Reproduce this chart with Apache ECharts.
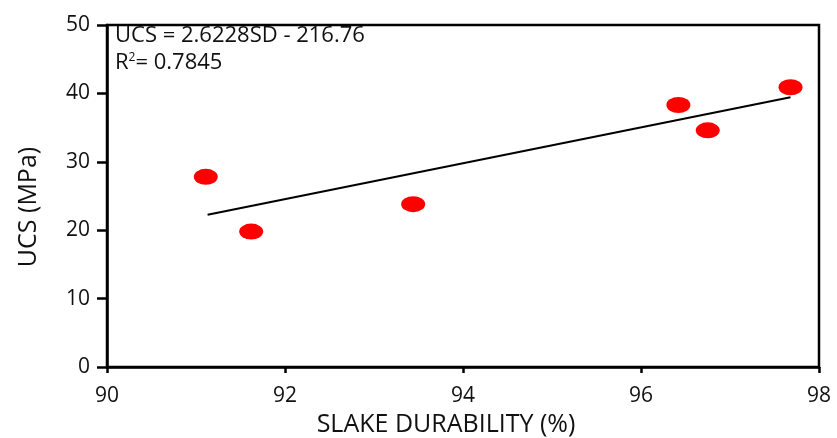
<!DOCTYPE html>
<html>
<head>
<meta charset="utf-8">
<script src="https://cdn.jsdelivr.net/npm/echarts@6/dist/echarts.min.js"></script>
<style>
  html, body { margin: 0; padding: 0; background: #fff; }
  #chart { width: 837px; height: 438px; }
</style>
</head>
<body>
<div id="chart"></div>
<script>
// Slake durability (%) vs uniaxial compressive strength (MPa)
const slakeDurability = [91.11, 91.62, 93.44, 96.42, 96.75, 97.68];
const ucsValues = [27.8, 19.8, 23.8, 38.3, 34.6, 40.9];

// Linear fit: UCS = slope * SD + intercept
const fitSlope = 2.6228;
const fitIntercept = -216.76;
const fitR2 = 0.7845;
const fitRange = [91.13, 97.68];

const xTicks = [90, 92, 94, 96, 98];
const yTicks = [0, 10, 20, 30, 40, 50];

const points = slakeDurability.map((x, i) => [x, ucsValues[i]]);
const fitLine = fitRange.map(x => [x, fitSlope * x + fitIntercept]);

const FONT = '"Open Sans", "Liberation Sans", sans-serif';

const chart = echarts.init(document.getElementById('chart'), null, { renderer: 'canvas' });
chart.setOption({
  animation: false,
  backgroundColor: '#ffffff',
  textStyle: { fontFamily: FONT },
  grid: {
    left: 107, right: 18, top: 25, bottom: 71,
    outerBoundsMode: 'none',
    containLabel: false,
    show: true, borderColor: '#000', borderWidth: 2.5, backgroundColor: 'transparent'
  },
  xAxis: {
    type: 'value',
    min: xTicks[0], max: xTicks[xTicks.length - 1], interval: 2,
    name: 'SLAKE DURABILITY (%)',
    nameLocation: 'middle',
    nameGap: 44,
    nameTextStyle: { fontSize: 25, color: '#111', fontFamily: FONT, padding: [0, 34, 0, 0] },
    axisLine: { show: true, lineStyle: { color: '#000', width: 2.5 } },
    axisTick: { show: true, inside: false, length: 6, lineStyle: { color: '#000', width: 2.5 } },
    axisLabel: { fontSize: 21, color: '#111', margin: 19, fontFamily: FONT },
    splitLine: { show: false }
  },
  yAxis: {
    type: 'value',
    min: yTicks[0], max: yTicks[yTicks.length - 1], interval: 10,
    name: 'UCS (MPa)',
    nameLocation: 'middle',
    nameGap: 66,
    nameTextStyle: { fontSize: 25, color: '#111', fontFamily: FONT, padding: [0, 22, 0, 0] },
    axisLine: { show: true, lineStyle: { color: '#000', width: 2.5 } },
    axisTick: { show: true, inside: false, length: 10, lineStyle: { color: '#000', width: 2.5 } },
    axisLabel: { fontSize: 21, color: '#111', margin: 17, fontFamily: FONT },
    splitLine: { show: false }
  },
  series: [
    {
      type: 'line',
      data: fitLine,
      symbol: 'none',
      lineStyle: { color: '#000', width: 2 },
      z: 2
    },
    {
      type: 'scatter',
      data: points,
      symbol: 'circle',
      symbolSize: [24, 16],
      itemStyle: { color: '#ff0000', opacity: 1 },
      z: 3
    }
  ],
  graphic: [
    {
      type: 'text',
      left: 115, top: 25,
      style: {
        text: 'UCS = ' + fitSlope.toFixed(4) + 'SD - ' + Math.abs(fitIntercept).toFixed(2),
        font: '22px ' + FONT,
        fill: '#111'
      }
    },
    {
      type: 'text',
      left: 115, top: 52,
      style: {
        text: '{b|R}{s|2}{b|= ' + fitR2.toFixed(4) + '}',
        rich: {
          b: { font: '22px ' + FONT, fill: '#111', verticalAlign: 'bottom' },
          s: { font: '12px ' + FONT, fill: '#111', verticalAlign: 'top', padding: [0, 0, 10, 0] }
        }
      }
    }
  ]
});
</script>
</body>
</html>
